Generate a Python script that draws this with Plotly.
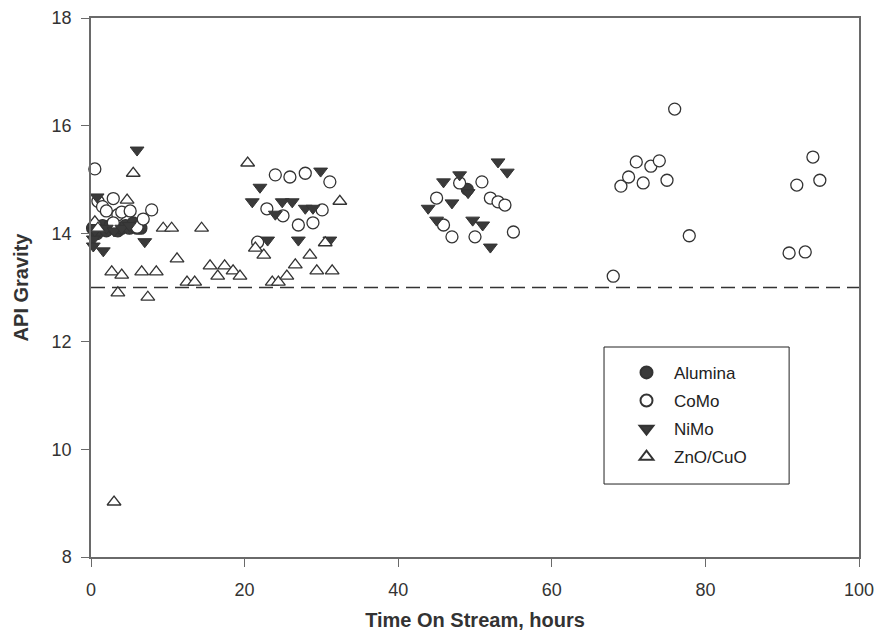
import plotly.graph_objects as go

# ---- data ----
alumina_x = [0.2, 0.8, 1.5, 2.0, 2.5, 3.0, 3.5, 4.0, 4.5, 5.0, 5.5, 6.0, 6.5, 49.0]
alumina_y = [14.1, 14.0, 14.15, 14.05, 14.15, 14.1, 14.05, 14.1, 14.15, 14.1, 14.2, 14.1, 14.1, 14.82]

como_x = [0.5, 0.9, 1.5, 2.0, 2.9, 3.5, 4.0, 5.1, 6.0, 6.8, 7.9, 2.9,
          21.7, 22.9, 24.0, 25.0, 25.9, 27.0, 27.9, 28.9, 30.1, 31.1,
          45.0, 45.9, 47.0, 48.0, 50.0, 50.9, 52.0, 53.0, 53.9, 55.0,
          68.0, 69.0, 70.0, 71.0, 71.9, 72.9, 74.0, 75.0, 76.0, 77.9,
          90.9, 91.9, 93.0, 94.0, 94.9]
como_y = [15.2, 14.6, 14.5, 14.42, 14.65, 14.35, 14.4, 14.42, 14.12, 14.27, 14.44, 14.2,
          13.84, 14.46, 15.09, 14.33, 15.05, 14.16, 15.12, 14.2, 14.44, 14.96,
          14.66, 14.16, 13.94, 14.94, 13.94, 14.96, 14.66, 14.59, 14.53, 14.03,
          13.21, 14.88, 15.05, 15.33, 14.94, 15.25, 15.35, 14.99, 16.31, 13.96,
          13.64, 14.9, 13.66, 15.42, 14.99]

nimo_x = [0.3, 0.5, 0.8, 0.3, 1.6, 2.0, 3.0, 4.0, 5.0, 6.0, 7.0,
          21.0, 22.0, 23.0, 24.0, 24.9, 26.2, 27.0, 27.9, 28.9, 29.9, 31.1,
          43.9, 45.0, 45.9, 47.0, 48.0, 49.1, 49.7, 51.0, 52.0, 53.0, 54.2]
nimo_y = [13.9, 14.05, 14.68, 13.77, 13.68, 14.1, 14.05, 14.1, 14.15, 15.55, 13.85,
          14.59, 14.86, 13.88, 14.36, 14.59, 14.59, 13.88, 14.47, 14.47, 15.16, 13.88,
          14.47, 14.25, 14.96, 14.57, 15.09, 14.76, 14.25, 14.16, 13.75, 15.33, 15.14]

zno_x = [0.5, 0.9, 4.7, 5.5, 2.7, 4.0, 3.5, 6.6, 8.5, 7.4, 9.4, 10.5, 11.2, 12.5, 13.5,
         14.4, 15.5, 16.5, 17.4, 18.5, 19.4, 20.4, 21.4, 22.5, 23.6, 24.4, 25.5, 26.6,
         28.5, 29.4, 30.5, 31.4, 32.4, 3.0]
zno_y = [14.22, 14.1, 14.62, 15.12, 13.29, 13.23, 12.9, 13.29, 13.29, 12.82, 14.1, 14.1, 13.53, 13.1, 13.1,
         14.1, 13.4, 13.21, 13.4, 13.31, 13.21, 15.31, 13.73, 13.6, 13.1, 13.1, 13.21, 13.42,
         13.6, 13.31, 13.83, 13.31, 14.6, 9.02]

spec_line = 13.0
x_ticks = [0, 20, 40, 60, 80, 100]
y_ticks = [8, 10, 12, 14, 16, 18]

FONT = "Liberation Sans, Arial, Helvetica, sans-serif"
EDGE = "#333333"
DARK = "#3a3a3a"

fig = go.Figure()
fig.add_trace(go.Scatter(x=alumina_x, y=alumina_y, mode="markers", name="Alumina", cliponaxis=False,
                         legendgroup="a",
                         marker=dict(symbol="circle", size=12, color=DARK, line=dict(color=EDGE, width=1.2))))
fig.add_trace(go.Scatter(x=como_x, y=como_y, mode="markers", name="CoMo", cliponaxis=False,
                         legendgroup="b",
                         marker=dict(symbol="circle", size=12, color="white", line=dict(color=EDGE, width=1.3))))
fig.add_trace(go.Scatter(x=nimo_x, y=nimo_y, mode="markers", name="NiMo", cliponaxis=False,
                         legendgroup="c",
                         marker=dict(symbol="triangle-down", size=12, color=DARK, line=dict(color=EDGE, width=1.0))))
fig.add_trace(go.Scatter(x=zno_x, y=zno_y, mode="markers", name="ZnO/CuO", cliponaxis=False,
                         legendgroup="d",
                         marker=dict(symbol="triangle-up", size=12, color="white", line=dict(color=EDGE, width=1.3))))

# dashed reference line
fig.add_shape(type="line", xref="x", yref="y", x0=x_ticks[0], x1=x_ticks[-1], y0=spec_line, y1=spec_line,
              line=dict(color="#333333", width=1.3, dash="14px,7px"), layer="below")

# legend box
fig.add_shape(type="rect", xref="paper", yref="paper", x0=0.668, x1=0.909, y0=0.1354, y1=0.3896,
              line=dict(color="#222222", width=1), fillcolor="rgba(0,0,0,0)")

axis_common = dict(showgrid=False, zeroline=False, showline=True, mirror=True, automargin=False,
                   linecolor="#6a6a6a", linewidth=1.5, ticks="outside", ticklen=8,
                   tickcolor="#6a6a6a", tickwidth=1.2,
                   tickfont=dict(family=FONT, size=18, color="#333333"))

fig.update_layout(
    width=876, height=631,
    margin=dict(l=91, r=17, t=18, b=74),
    paper_bgcolor="white", plot_bgcolor="white",
    font=dict(family=FONT, color="#333333"),
    xaxis=dict(range=[0, 100], tickvals=x_ticks, ticklabelstandoff=8,
               title=dict(text="<b>Time On Stream, hours</b>", font=dict(family=FONT, size=20, color="#333333"), standoff=15),
               **axis_common),
    yaxis=dict(range=[8, 18], tickvals=y_ticks, ticklabelstandoff=6,
               title=dict(text="<b>API Gravity</b>", font=dict(family=FONT, size=20, color="#333333"), standoff=18),
               **axis_common),
    legend=dict(x=0.6875, y=0.375, xanchor="left", yanchor="top", bgcolor="rgba(0,0,0,0)",
                borderwidth=0, font=dict(family=FONT, size=17, color="#222222"),
                itemsizing="constant", tracegroupgap=3, itemwidth=45),
    showlegend=True,
)

fig.write_html("out.html")
